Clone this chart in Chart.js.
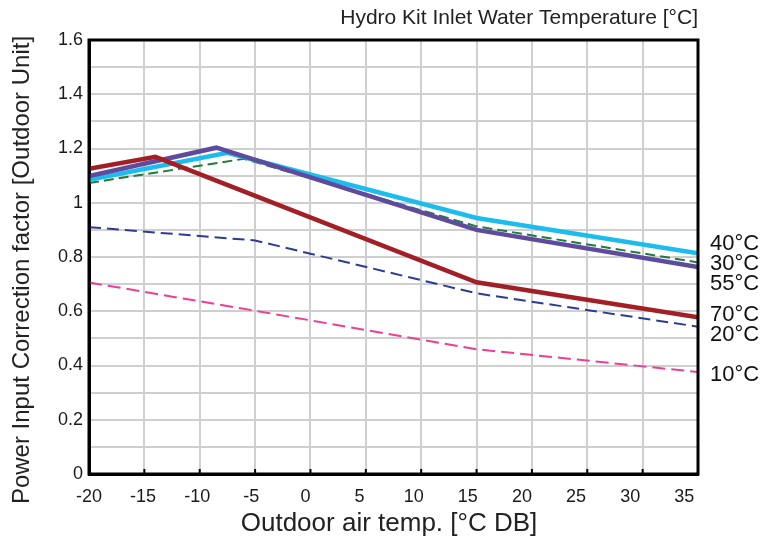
<!DOCTYPE html>
<html>
<head>
<title>Power Input Correction factor</title>
<script src="https://cdn.jsdelivr.net/npm/chart.js@4/dist/chart.umd.min.js"></script>
<style>
  html, body { margin: 0; padding: 0; background: #fff; }
  #wrap { width: 761px; height: 541px; }
</style>
</head>
<body>
<div id="wrap"><canvas id="chart" width="761" height="541"></canvas></div>

<script>
// water inlet temperature curves
const seriesNames = ['10°C', '20°C', '30°C', '40°C', '55°C', '70°C'];

const x10 = [-20, -5, 15, 35];
const y10 = [0.706, 0.602, 0.460, 0.376];
const x20 = [-20, -5, 15, 35];
const y20 = [0.910, 0.861, 0.666, 0.543];
const x30 = [-20, -6, 15, 35];
const y30 = [1.073, 1.162, 0.913, 0.780];
const x40 = [-20, -7.5, 15, 35];
const y40 = [1.085, 1.184, 0.944, 0.814];
const x55 = [-20, -8.5, 15, 35];
const y55 = [1.098, 1.203, 0.900, 0.763];
const x70 = [-20, -14, 15, 35];
const y70 = [1.125, 1.169, 0.707, 0.578];

const xTicks = [-20, -15, -10, -5, 0, 5, 10, 15, 20, 25, 30, 35];
const yTickLabels = ['0', '0.2', '0.4', '0.6', '0.8', '1', '1.2', '1.4', '1.6'];

const chartTitle = 'Hydro Kit Inlet Water Temperature [°C]';
const xTitle = 'Outdoor air temp. [°C DB]';
const yTitle = 'Power Input Correction factor [Outdoor Unit]';

const FONT = '"Liberation Sans", Arial, Helvetica, sans-serif';
Chart.defaults.font.family = FONT;
Chart.defaults.color = '#1a1a1a';

function pts(xs, ys) {
    return xs.map((x, i) => ({ x: x, y: ys[i] }));
}

const styles = {
    '10°C': { color: '#ec3f93', width: 2, dash: [13, 6] },
    '20°C': { color: '#2b3c98', width: 2, dash: [12, 6] },
    '30°C': { color: '#1f7a3c', width: 2, dash: [10, 5] },
    '40°C': { color: '#1cbcec', width: 4.5, dash: [] },
    '55°C': { color: '#5e4a9e', width: 4.5, dash: [] },
    '70°C': { color: '#a21f25', width: 4.5, dash: [] }
};
const seriesData = {
    '10°C': pts(x10, y10),
    '20°C': pts(x20, y20),
    '30°C': pts(x30, y30),
    '40°C': pts(x40, y40),
    '55°C': pts(x55, y55),
    '70°C': pts(x70, y70)
};

// labels at the right end of the lines, spread apart where they collide
const endLabels = {
    id: 'endLabels',
    afterDatasetsDraw(chart) {
        const ctx = chart.ctx, area = chart.chartArea, ys = chart.scales.y;
        // frame
        ctx.save();
        ctx.strokeStyle = '#000';
        ctx.lineWidth = 3;
        ctx.strokeRect(area.left, area.top, area.right - area.left, area.bottom - area.top);
        // small inner ticks on the x axis
        ctx.lineWidth = 2;
        const xs = chart.scales.x;
        xTicks.slice(1, -1).forEach(v => {
            const px = xs.getPixelForValue(v);
            ctx.beginPath();
            ctx.moveTo(px, area.bottom);
            ctx.lineTo(px, area.bottom - 5);
            ctx.stroke();
        });

        let items = chart.data.datasets.map(ds => ({
            text: ds.label,
            y: ys.getPixelForValue(ds.data[ds.data.length - 1].y)
        })).sort((a, b) => a.y - b.y);
        const gap = 20;
        let groups = items.map(it => ({ list: [it], mean: it.y }));
        let merged = true;
        while (merged) {
            merged = false;
            for (let i = 0; i < groups.length - 1; i++) {
                const a = groups[i], b = groups[i + 1];
                const aEnd = a.mean + (a.list.length - 1) / 2 * gap;
                const bStart = b.mean - (b.list.length - 1) / 2 * gap;
                if (bStart - aEnd < gap) {
                    const list = a.list.concat(b.list);
                    const mean = list.reduce((s, it) => s + it.y, 0) / list.length;
                    groups.splice(i, 2, { list: list, mean: mean });
                    merged = true;
                    break;
                }
            }
        }
        ctx.fillStyle = '#111';
        ctx.font = '22px ' + FONT;
        ctx.textAlign = 'left';
        ctx.textBaseline = 'middle';
        groups.forEach(g => {
            g.list.forEach((it, k) => {
                const y = g.mean + (k - (g.list.length - 1) / 2) * gap + 3;
                ctx.fillText(it.text, area.right + 12, y);
            });
        });

        // titles
        ctx.font = '21px ' + FONT;
        ctx.fillStyle = '#222';
        ctx.textAlign = 'right';
        ctx.fillText(chartTitle, area.right, 18);

        ctx.font = '26px ' + FONT;
        ctx.textAlign = 'center';
        ctx.fillText(xTitle, 389, 524);

        ctx.translate(22, 270);
        ctx.rotate(-Math.PI / 2);
        ctx.font = '24px ' + FONT;
        ctx.fillText(yTitle, 0, 0);
        ctx.restore();
    }
};

const order = ['10°C', '20°C', '30°C', '40°C', '55°C', '70°C'];

new Chart(document.getElementById('chart'), {
    type: 'line',
    data: {
        datasets: order.map((name, i) => ({
            label: name,
            data: seriesData[name],
            borderColor: styles[name].color,
            borderWidth: styles[name].width,
            borderDash: styles[name].dash,
            pointRadius: 0,
            tension: 0,
            fill: false,
            order: order.length - i
        }))
    },
    options: {
        responsive: false,
        animation: false,
        layout: { padding: { left: 0, right: 63, top: 40, bottom: 0 } },
        plugins: {
            legend: { display: false },
            tooltip: { enabled: false }
        },
        scales: {
            // grid axis: carries the gridlines and the data
            x: {
                type: 'linear',
                position: 'bottom',
                min: -20,
                max: 35,
                afterFit: s => { s.height = 0; },
                afterBuildTicks: s => { s.ticks = xTicks.map(v => ({ value: v })); },
                grid: { color: '#cfcfcf', lineWidth: 2, drawTicks: false },
                border: { display: true, color: '#000', width: 3 },
                ticks: { display: false }
            },
            // label axis: the original prints its tick labels on a slightly tighter pitch
            xl: {
                type: 'linear',
                position: 'bottom',
                min: -20,
                max: 36.26,
                afterFit: s => { s.height = 67; },
                afterBuildTicks: s => { s.ticks = xTicks.map(v => ({ value: v })); },
                grid: { display: false, drawTicks: false },
                border: { display: false },
                ticks: {
                    autoSkip: false,
                    maxRotation: 0,
                    padding: 12,
                    font: { size: 18 },
                    callback: v => String(v)
                }
            },
            y: {
                min: 0,
                max: 1.6,
                afterFit: s => { s.width = 89; },
                grid: { color: '#cfcfcf', lineWidth: 2, drawTicks: false },
                border: { display: true, color: '#000', width: 3 },
                ticks: {
                    stepSize: 0.1,
                    autoSkip: false,
                    padding: 6,
                    font: { size: 18 },
                    callback: (v, i) => (i % 2 === 0 ? yTickLabels[i / 2] : '')
                }
            }
        }
    },
    plugins: [endLabels]
});
</script>
</body>
</html>
